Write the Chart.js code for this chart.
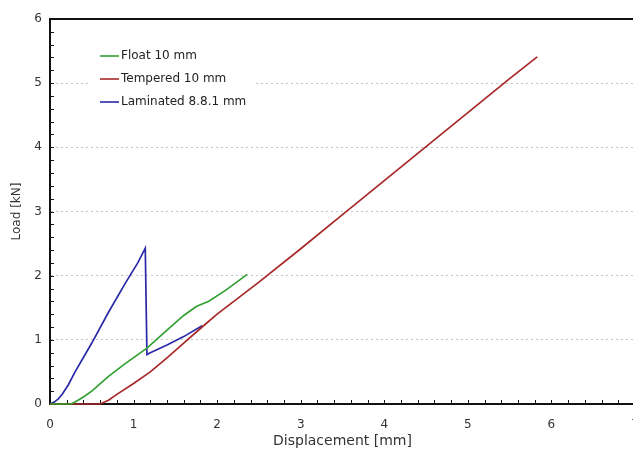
<!DOCTYPE html>
<html>
<head>
<meta charset="utf-8">
<script src="https://cdn.jsdelivr.net/npm/chart.js@4/dist/chart.umd.min.js"></script>
<style>
  html, body { margin: 0; padding: 0; background: #fff; overflow: hidden; }
  #wrap { width: 633px; height: 456px; overflow: hidden; }
  #box { width: 660px; height: 456px; }
</style>
</head>
<body>
<div id="wrap"><div id="box"><canvas id="myChart"></canvas></div></div>
<script>
// Float 10 mm
var floatX = [0, 0.25, 0.3, 0.4, 0.5, 0.7, 0.9, 1.16, 1.4, 1.6, 1.75, 1.9, 2.1, 2.36]
var floatY = [0, 0, 0.03, 0.11, 0.2, 0.43, 0.63, 0.87, 1.15, 1.38, 1.52, 1.6, 1.77, 2.02]

// Tempered 10 mm
var temperedX = [0, 0.6, 0.7, 0.8, 1.0, 1.2, 1.4, 1.6, 1.82, 2.0, 2.5, 3.0, 3.5, 4.0, 4.5, 5.0, 5.5, 5.83]
var temperedY = [0, 0, 0.06, 0.15, 0.32, 0.5, 0.72, 0.95, 1.2, 1.4, 1.9, 2.42, 2.95, 3.48, 4.01, 4.54, 5.07, 5.41]

// Laminated 8.8.1 mm
var laminatedX = [0, 0.05, 0.1, 0.15, 0.22, 0.3, 0.5, 0.7, 0.9, 1.05, 1.14, 1.16, 1.2, 1.4, 1.6, 1.82]
var laminatedY = [0, 0.03, 0.08, 0.16, 0.3, 0.5, 0.95, 1.43, 1.88, 2.2, 2.43, 0.77, 0.8, 0.92, 1.05, 1.22]

var labels = ["Float 10 mm", "Tempered 10 mm", "Laminated 8.8.1 mm"]
var colors = ["#33a033", "#a82828", "#2a2aa8"]

function pts(xs, ys) {
    return xs.map(function (x, i) { return { x: x, y: ys[i] } })
}

var font = "'DejaVu Sans', Verdana, sans-serif"

// inward minor ticks, frame and legend
var framePlugin = {
    id: "frame",
    afterDatasetsDraw: function (chart) {
        var ctx = chart.ctx, a = chart.chartArea
        var xs = chart.scales.x, ys = chart.scales.y
        ctx.save()
        ctx.strokeStyle = "#111"
        ctx.lineWidth = 1
        ctx.beginPath()
        for (var i = 1; i < 35; i++) {
            var px = Math.round(xs.getPixelForValue(i * 0.2)) + 0.5
            ctx.moveTo(px, a.bottom - 1)
            ctx.lineTo(px, a.bottom - 4)
        }
        for (var j = 1; j < 30; j++) {
            var py = Math.round(ys.getPixelForValue(j * 0.2)) + 0.5
            ctx.moveTo(a.left + 1, py)
            ctx.lineTo(a.left + 4, py)
        }
        ctx.stroke()
        ctx.lineWidth = 2
        ctx.beginPath()
        ctx.moveTo(a.left, a.top)
        ctx.lineTo(a.right, a.top)
        ctx.lineTo(a.right, a.bottom)
        ctx.stroke()

        // legend
        ctx.fillStyle = "#fff"
        ctx.fillRect(90, 42, 165, 72)
        ctx.font = "12px " + font
        ctx.textBaseline = "middle"
        chart.data.datasets.forEach(function (ds, k) {
            var y = 56 + k * 23
            ctx.strokeStyle = ds.borderColor
            ctx.lineWidth = 1.6
            ctx.beginPath()
            ctx.moveTo(100, y)
            ctx.lineTo(119, y)
            ctx.stroke()
            ctx.fillStyle = "#222"
            ctx.fillText(ds.label, 121, y)
        })
        ctx.restore()
    }
}

var chart = new Chart(document.getElementById("myChart").getContext("2d"), {
    type: "line",
    data: {
        datasets: [
            { label: labels[0], data: pts(floatX, floatY), borderColor: colors[0], backgroundColor: colors[0], clip: 4 },
            { label: labels[1], data: pts(temperedX, temperedY), borderColor: colors[1], backgroundColor: colors[1], clip: 4 },
            { label: labels[2], data: pts(laminatedX, laminatedY), borderColor: colors[2], backgroundColor: colors[2], clip: 4 }
        ]
    },
    options: {
        responsive: true,
        maintainAspectRatio: false,
        animation: false,
        layout: { padding: { top: 19, right: 25, left: 0, bottom: 0 } },
        elements: {
            point: { radius: 0 },
            line: { borderWidth: 1.7, tension: 0 }
        },
        plugins: { legend: { display: false }, tooltip: { enabled: false } },
        scales: {
            x: {
                type: "linear",
                min: 0, max: 7,
                afterFit: function (s) { s.height = 52 },
                ticks: { stepSize: 1, padding: 14, color: "#333", font: { family: font, size: 12 } },
                grid: { display: false, drawTicks: false },
                border: { color: "#111", width: 2, z: -1 },
                title: { display: true, text: "Displacement [mm]", color: "#333", padding: { top: 0, bottom: 6 }, font: { family: font, size: 14 } }
            },
            y: {
                min: 0, max: 6,
                afterFit: function (s) { s.width = 50 },
                ticks: { stepSize: 1, padding: 8, color: "#333", font: { family: font, size: 12 } },
                grid: {
                    drawTicks: false,
                    color: function (c) {
                        var v = c.tick ? c.tick.value : 0
                        return (v >= 1 && v <= 5) ? "#c4c4c4" : "rgba(0,0,0,0)"
                    },
                    lineWidth: 1
                },
                border: { color: "#111", width: 2, dash: [2, 3] },
                title: { display: true, text: "Load [kN]", color: "#333", padding: { top: 10, bottom: 0 }, font: { family: font, size: 12 } }
            }
        }
    },
    plugins: [framePlugin]
})
</script>
</body>
</html>
